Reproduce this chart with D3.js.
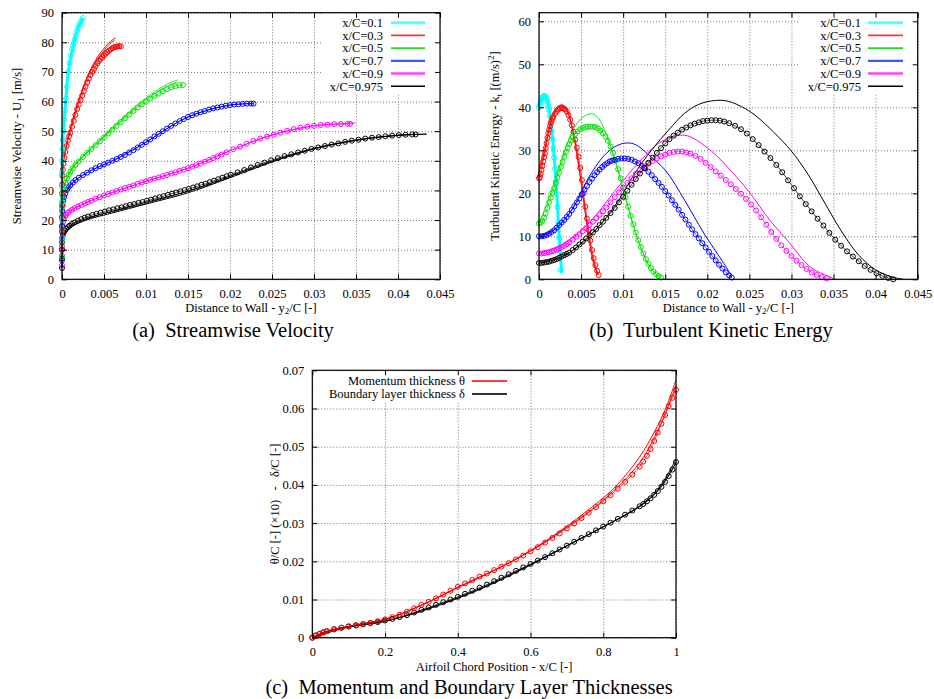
<!DOCTYPE html>
<html><head><meta charset="utf-8">
<script src="https://cdn.jsdelivr.net/npm/d3@7"></script>
<style>body{margin:0;background:#fff} text{font-family:"Liberation Serif","Times New Roman",serif;fill:#000}</style>
</head><body><svg id="chart" width="934" height="699"></svg>
<script>
// ---------------- DATA ----------------
const caseLabels = ["x/C=0.1","x/C=0.3","x/C=0.5","x/C=0.7","x/C=0.9","x/C=0.975"];
const caseColors = ["#00ffff","#ff0000","#00e400","#0000ff","#ff00ff","#000000"];
const legendColors = ["#55ffff","#ff3333","#22dd22","#4455ff","#ff44ff","#000000"];

const xTicksProfile = [0,0.005,0.01,0.015,0.02,0.025,0.03,0.035,0.04,0.045];
const yTicksVel = [0,10,20,30,40,50,60,70,80,90];
const yTicksTke = [0,10,20,30,40,50,60];
const xTicksChord = [0,0.2,0.4,0.6,0.8,1];
const yTicksThick = [0,0.01,0.02,0.03,0.04,0.05,0.06,0.07];

// (a) streamwise velocity: markers [y2/C, U1]
const velMarks01 = [[0,14],[0,20],[0,26],[0,31],[0,36],[0.00003,40],[0.00006,44],[0.0001,47],[0.00016,50],[0.00025,54],[0.00036,57],[0.00048,61],[0.0006,65],[0.00075,70],[0.0009,73],[0.00105,75.5],[0.0012,77.5],[0.00135,79],[0.0015,80.8],[0.00165,82.3],[0.0018,83.8],[0.00194,85],[0.0021,86.1],[0.0023,87.3],[0.0025,88.2]];
const velMarks03 = [[0,10],[0,16],[0,21],[0,25],[0,29],[0.00002,32],[0.00005,35],[0.0001,37],[0.00018,39],[0.00028,41],[0.0004,43],[0.00055,45],[0.0007,46.8],[0.00085,48.3],[0.001,49.5],[0.0012,51.5],[0.0014,53.5],[0.0016,55.5],[0.0018,57.5],[0.002,59],[0.0022,60.5],[0.0024,62],[0.0026,63.5],[0.0028,65],[0.003,66.5],[0.0032,67.8],[0.0034,69],[0.0036,70],[0.0038,71],[0.004,72],[0.0042,72.9],[0.0044,73.7],[0.0046,74.4],[0.0048,75],[0.005,75.6],[0.0052,76.2],[0.0054,76.7],[0.0056,77.2],[0.0058,77.6],[0.006,78],[0.0062,78.3],[0.0064,78.5],[0.0066,78.6],[0.0068,78.7],[0.007,78.6]];
const velMarks05 = [[0,7.5],[0,12],[0,17],[0,21],[0,24],[0.00003,26],[0.00008,28],[0.00015,29.5],[0.00025,31],[0.0004,32.5],[0.0006,34],[0.0008,35.3],[0.001,36.3],[0.0013,37.5],[0.0016,38.6],[0.002,39.8],[0.0025,41.3],[0.003,42.7],[0.0035,44],[0.004,45.3],[0.0045,46.6],[0.005,47.9],[0.0055,49.2],[0.006,50.5],[0.0065,51.8],[0.007,53.1],[0.0075,54.4],[0.008,55.6],[0.0085,56.8],[0.009,58],[0.0095,59],[0.01,60],[0.0105,61],[0.011,61.9],[0.0115,62.7],[0.012,63.5],[0.0125,64.2],[0.013,64.8],[0.0135,65.2],[0.014,65.5],[0.0144,65.6]];
const velMarks07 = [[0,6.4],[0,10],[0,14],[0,18],[0,21],[0.00003,23],[0.00008,25],[0.00015,26.5],[0.00025,27.8],[0.0004,29],[0.0006,30.2],[0.0008,31.1],[0.001,31.8],[0.0013,32.7],[0.0016,33.5],[0.002,34.3],[0.0025,35.2],[0.003,36],[0.0035,36.8],[0.004,37.5],[0.0045,38.2],[0.005,38.8],[0.0055,39.4],[0.006,40],[0.0065,40.6],[0.007,41.3],[0.0075,42],[0.008,42.8],[0.0085,43.6],[0.009,44.5],[0.0095,45.4],[0.01,46.3],[0.0105,47.2],[0.011,48.2],[0.0115,49.1],[0.012,50],[0.0125,50.9],[0.013,51.8],[0.0135,52.6],[0.014,53.4],[0.0145,54.1],[0.015,54.8],[0.0155,55.4],[0.016,55.9],[0.0165,56.4],[0.017,56.8],[0.0175,57.3],[0.018,57.7],[0.0185,58],[0.019,58.3],[0.0195,58.6],[0.02,58.8],[0.0205,59],[0.021,59.1],[0.0215,59.2],[0.022,59.3],[0.0225,59.3],[0.0228,59.3]];
const velMarks09 = [[0,4.7],[0,8],[0,11],[0,14],[0,16.5],[0.00003,18],[0.0001,19.3],[0.0002,20.3],[0.00035,21.2],[0.0005,21.8],[0.0007,22.4],[0.0009,22.9],[0.0012,23.5],[0.0015,24],[0.0019,24.6],[0.0023,25.1],[0.0027,25.6],[0.0031,26.1],[0.0035,26.6],[0.004,27.2],[0.0045,27.7],[0.005,28.3],[0.0055,28.8],[0.006,29.3],[0.0065,29.8],[0.007,30.3],[0.0075,30.8],[0.008,31.2],[0.0085,31.7],[0.009,32.2],[0.0095,32.7],[0.01,33.1],[0.0105,33.6],[0.011,34],[0.0115,34.4],[0.012,34.8],[0.0125,35.2],[0.013,35.7],[0.0135,36.1],[0.014,36.6],[0.0145,37],[0.015,37.5],[0.0155,38],[0.016,38.6],[0.0165,39.1],[0.017,39.7],[0.0175,40.3],[0.018,40.9],[0.0185,41.5],[0.019,42.1],[0.0196,42.9],[0.0204,43.9],[0.0212,44.8],[0.022,45.8],[0.0228,46.7],[0.0236,47.5],[0.0244,48.2],[0.0252,48.8],[0.026,49.5],[0.0268,50.1],[0.0276,50.7],[0.0284,51.2],[0.0292,51.5],[0.03,51.8],[0.0308,52.1],[0.0316,52.2],[0.0324,52.4],[0.0332,52.4],[0.034,52.5],[0.0343,52.5]];
const velMarks0975 = [[0,3.8],[0,7],[0,10],[0,12.5],[0.00003,14],[0.0001,15],[0.0002,15.8],[0.00035,16.5],[0.0005,17],[0.0007,17.6],[0.0009,18.1],[0.0012,18.7],[0.0015,19.2],[0.0019,19.8],[0.0023,20.3],[0.0027,20.8],[0.0031,21.2],[0.0036,21.7],[0.0041,22.1],[0.0046,22.5],[0.0051,22.9],[0.0056,23.3],[0.0061,23.6],[0.0066,24],[0.0071,24.3],[0.0076,24.7],[0.0081,25.1],[0.0086,25.4],[0.0091,25.8],[0.0096,26.1],[0.0101,26.5],[0.0106,26.9],[0.0111,27.3],[0.0116,27.7],[0.0121,28.1],[0.0126,28.5],[0.0131,28.9],[0.0136,29.3],[0.0141,29.7],[0.0146,30.1],[0.0151,30.5],[0.0156,31],[0.0161,31.4],[0.0166,31.9],[0.0171,32.3],[0.0176,32.8],[0.0181,33.3],[0.0186,33.8],[0.0191,34.3],[0.0196,34.8],[0.0201,35.3],[0.0209,36.1],[0.0217,36.9],[0.0225,37.8],[0.0233,38.6],[0.0241,39.4],[0.0249,40.2],[0.0257,40.9],[0.0265,41.6],[0.0273,42.2],[0.0281,42.8],[0.0289,43.4],[0.0297,44],[0.0305,44.5],[0.0313,45],[0.0321,45.5],[0.0329,45.9],[0.0337,46.4],[0.0345,46.8],[0.0353,47.1],[0.0361,47.5],[0.0369,47.8],[0.0377,48],[0.0385,48.3],[0.0393,48.5],[0.0401,48.7],[0.0409,48.8],[0.0417,48.9],[0.0421,48.9]];

const velLine01 = [[0,13],[0.00003,40],[0.0001,47],[0.00036,57],[0.00075,70],[0.00135,79],[0.00194,85],[0.0025,88.2]];
const velLine03a = [[0,10],[0.0001,37],[0.0004,44],[0.001,51],[0.002,60.5],[0.003,68.3],[0.004,74],[0.005,78],[0.0058,80.4],[0.0064,81.5]];
const velLine03b = [[0,10],[0.0001,36.5],[0.0004,43.5],[0.001,50.5],[0.002,60],[0.003,67.8],[0.004,73.4],[0.005,77.3],[0.0058,79.8],[0.0063,80.8]];
const velLine05a = [[0,7.5],[0.0001,28.5],[0.001,36.8],[0.003,43],[0.005,48.4],[0.007,53.9],[0.009,59],[0.011,63.3],[0.012,65],[0.013,66.5],[0.0138,67.3]];
const velLine05b = [[0,7.5],[0.0001,28.3],[0.001,36.5],[0.003,42.7],[0.005,48],[0.007,53.4],[0.009,58.4],[0.011,62.6],[0.012,64.3],[0.013,65.8],[0.0137,66.6]];
const velLine07 = [[0,6.4],[0.0001,25.5],[0.001,31.8],[0.003,36],[0.006,40],[0.01,46.3],[0.015,54.8],[0.02,58.8],[0.0228,59.3]];
const velLine09 = [[0,4.7],[0.0001,19.3],[0.001,23],[0.003,26],[0.006,29.3],[0.01,33.1],[0.015,37.5],[0.02,43.4],[0.025,48.7],[0.03,51.8],[0.0349,52.7]];
const velLine0975a = [[0,3.8],[0.0001,14.5],[0.001,17.9],[0.003,20.6],[0.006,23],[0.01,26],[0.015,29.8],[0.02,34.8],[0.025,39.9],[0.03,44.2],[0.035,47],[0.04,48.6],[0.0434,49]];
const velLine0975b = [[0,3.8],[0.0001,14.2],[0.001,17.5],[0.003,20.1],[0.006,22.4],[0.01,25.4],[0.015,29.2],[0.02,34.3],[0.025,39.6],[0.03,44],[0.035,46.9],[0.04,48.6],[0.0434,49]];

// (b) turbulent kinetic energy: markers [y2/C, k]
const tkeMarks01 = [[0,40],[0.0001,40.5],[0.0002,41.2],[0.0003,41.8],[0.0004,42.2],[0.0005,42.5],[0.0006,42.6],[0.0007,42.6],[0.0008,42.4],[0.0009,42],[0.001,41.3],[0.0011,40.3],[0.0012,39.3],[0.0013,38],[0.0014,36.3],[0.0015,34.5],[0.0016,32.6],[0.0017,30.6],[0.0018,28.3],[0.0019,25.7],[0.002,22.8],[0.0021,20],[0.0022,16.8],[0.0023,13.2],[0.0024,9.6],[0.0025,6],[0.0026,2.2]];
const tkeMarks03 = [[0,23.5],[0.0001,23.8],[0.0002,24.5],[0.0003,25.4],[0.0004,26.4],[0.0005,27.4],[0.0006,28.4],[0.0007,29.3],[0.0008,30.5],[0.0009,31.7],[0.001,32.9],[0.0011,34],[0.0012,34.8],[0.0013,35.6],[0.0014,36.3],[0.0015,36.9],[0.0016,37.4],[0.0017,37.8],[0.0019,38.5],[0.0021,39.1],[0.0023,39.5],[0.0025,39.8],[0.0027,39.9],[0.0029,39.8],[0.0031,39.5],[0.0033,39],[0.0035,38.2],[0.0037,37.1],[0.0039,35.8],[0.0041,34.3],[0.0043,32.5],[0.0045,30.6],[0.0047,28.5],[0.0049,25.9],[0.0051,23.1],[0.0053,20],[0.0055,16.9],[0.0057,14.1],[0.0059,11.5],[0.0061,9],[0.0063,6.8],[0.0065,4.9],[0.0067,3.3],[0.0069,2],[0.0071,1]];
const tkeMarks05 = [[0,13],[0.0002,13.2],[0.0004,13.6],[0.0006,14.3],[0.0008,15.3],[0.001,16.6],[0.0012,17.9],[0.0014,19],[0.0016,20.1],[0.0018,21.2],[0.002,22.4],[0.0022,23.6],[0.0024,24.8],[0.0026,26.1],[0.0028,27.3],[0.003,28.5],[0.0032,29.6],[0.0034,30.6],[0.0036,31.5],[0.0038,32.3],[0.004,33],[0.0043,33.8],[0.0046,34.4],[0.0049,34.9],[0.0052,35.2],[0.0055,35.4],[0.0058,35.5],[0.0061,35.5],[0.0064,35.5],[0.0067,35.4],[0.007,35.1],[0.0073,34.6],[0.0076,34],[0.0079,33.2],[0.0082,32.2],[0.0085,30.9],[0.0088,29.4],[0.0091,27.6],[0.0094,25.6],[0.0097,23.5],[0.01,21.3],[0.0103,19.1],[0.0106,16.9],[0.0109,14.8],[0.0112,12.8],[0.0115,10.9],[0.0118,9.1],[0.0121,7.5],[0.0124,6],[0.0127,4.7],[0.013,3.6],[0.0133,2.6],[0.0136,1.8],[0.0139,1.2],[0.0142,0.7],[0.0145,0.4]];
const tkeMarks07 = [[0,10],[0.0003,10],[0.0006,10.1],[0.0009,10.3],[0.0012,10.6],[0.0015,11],[0.0018,11.4],[0.0021,12],[0.0024,12.6],[0.0027,13.2],[0.003,13.8],[0.0033,14.5],[0.0036,15.2],[0.0039,16.1],[0.0042,17],[0.0045,17.9],[0.0048,18.8],[0.0051,19.8],[0.0054,20.8],[0.0057,21.7],[0.006,22.6],[0.0063,23.4],[0.0066,24.2],[0.0069,24.9],[0.0072,25.5],[0.0075,26.1],[0.0078,26.6],[0.0081,27],[0.0084,27.4],[0.0087,27.6],[0.009,27.8],[0.0094,28],[0.0098,28.1],[0.0102,28.1],[0.0106,28],[0.011,27.8],[0.0114,27.4],[0.0118,27],[0.0122,26.4],[0.0126,25.8],[0.013,25],[0.0134,24.2],[0.0138,23.3],[0.0142,22.4],[0.0146,21.5],[0.015,20.5],[0.0154,19.5],[0.0158,18.4],[0.0162,17.3],[0.0166,16.2],[0.017,15],[0.0174,13.9],[0.0178,12.7],[0.0182,11.6],[0.0186,10.5],[0.019,9.5],[0.0194,8.4],[0.0198,7.4],[0.0202,6.4],[0.0206,5.4],[0.021,4.4],[0.0214,3.4],[0.0218,2.5],[0.0222,1.6],[0.0226,0.9],[0.0229,0.4]];
const tkeMarks09 = [[0,6],[0.0003,6],[0.0006,6.1],[0.0009,6.2],[0.0012,6.3],[0.0015,6.5],[0.0018,6.7],[0.0021,6.9],[0.0024,7.2],[0.0027,7.5],[0.003,7.8],[0.0033,8.2],[0.0036,8.6],[0.004,9.2],[0.0044,9.9],[0.0048,10.5],[0.0052,11.2],[0.0056,11.9],[0.006,12.7],[0.0064,13.4],[0.0068,14.2],[0.0072,15],[0.0076,15.8],[0.008,16.7],[0.0085,17.9],[0.009,19.1],[0.0095,20.2],[0.01,21.3],[0.0105,22.4],[0.011,23.5],[0.0115,24.5],[0.012,25.4],[0.0125,26.2],[0.013,26.9],[0.0135,27.5],[0.014,28.1],[0.0145,28.6],[0.015,29],[0.0155,29.4],[0.016,29.6],[0.0165,29.7],[0.017,29.7],[0.0175,29.5],[0.018,29.2],[0.0186,28.7],[0.0192,28],[0.0198,27.1],[0.0204,26.1],[0.021,25.1],[0.0216,24.1],[0.0222,23.1],[0.0228,22.1],[0.0234,21],[0.024,19.9],[0.0246,18.7],[0.0252,17.4],[0.0258,16],[0.0264,14.4],[0.027,12.7],[0.0276,11],[0.0282,9.4],[0.0288,7.9],[0.0294,6.6],[0.03,5.4],[0.0306,4.3],[0.0312,3.3],[0.0318,2.4],[0.0324,1.6],[0.033,1],[0.0336,0.5],[0.0342,0.2]];
const tkeMarks0975 = [[0,3.8],[0.0003,3.8],[0.0006,3.9],[0.0009,4],[0.0012,4.1],[0.0015,4.3],[0.0018,4.5],[0.0021,4.7],[0.0024,5],[0.0027,5.3],[0.003,5.6],[0.0033,5.9],[0.0036,6.2],[0.004,6.8],[0.0044,7.4],[0.0048,8.1],[0.0052,8.8],[0.0056,9.5],[0.006,10.2],[0.0064,10.9],[0.0068,11.7],[0.0072,12.6],[0.0076,13.4],[0.008,14.3],[0.0085,15.4],[0.009,16.6],[0.0095,17.9],[0.01,19.2],[0.0105,20.6],[0.011,22],[0.0115,23.3],[0.012,24.6],[0.0125,25.9],[0.013,27.1],[0.0135,28.3],[0.014,29.4],[0.0145,30.5],[0.015,31.6],[0.0155,32.6],[0.016,33.4],[0.0165,34.1],[0.017,34.8],[0.0175,35.3],[0.018,35.8],[0.0185,36.2],[0.019,36.5],[0.0195,36.8],[0.02,36.9],[0.0205,37],[0.021,37],[0.0215,36.9],[0.022,36.7],[0.0226,36.3],[0.0233,35.7],[0.024,34.9],[0.0247,33.9],[0.0254,32.6],[0.0261,31.2],[0.0268,29.7],[0.0275,28.2],[0.0282,26.6],[0.0289,24.9],[0.0296,23],[0.0303,21.2],[0.031,19.3],[0.0317,17.5],[0.0324,15.8],[0.0331,14.1],[0.0338,12.5],[0.0345,10.8],[0.0352,9.2],[0.0359,7.8],[0.0366,6.5],[0.0373,5.3],[0.038,4.2],[0.0387,3.1],[0.0394,2.2],[0.0401,1.4],[0.0408,0.8],[0.0415,0.3],[0.0421,0]];

const tkeLine01 = [[0,40],[0.0004,42.3],[0.0007,42.7],[0.001,41.5],[0.0014,36.5],[0.0018,28.5],[0.0022,17],[0.0025,6.5],[0.0027,1.5]];
const tkeLine03a = [[0,26],[0.0005,28.8],[0.001,33.6],[0.0015,37.4],[0.002,39.7],[0.0027,40.6],[0.0033,39.6],[0.004,34.8],[0.0045,29.5],[0.005,23],[0.0055,15.8],[0.006,9],[0.0065,4],[0.0069,1.3]];
const tkeLine03b = [[0,24.8],[0.0005,28],[0.001,33],[0.0015,37],[0.002,39.3],[0.0027,40.2],[0.0033,39.3],[0.004,34.5],[0.0045,29],[0.005,22.5],[0.0055,15.3],[0.006,8.6],[0.0065,3.6],[0.007,1]];
const tkeLine05 = [[0,13],[0.001,17.8],[0.002,23.5],[0.003,29.5],[0.004,34.5],[0.005,37.4],[0.0063,38.5],[0.007,37.6],[0.008,33.8],[0.009,27.8],[0.01,20.8],[0.011,13.8],[0.012,7.8],[0.013,3.4],[0.0142,0.5]];
const tkeLine07 = [[0,10],[0.002,11.8],[0.004,16.5],[0.006,24],[0.008,29.3],[0.0095,31.3],[0.0105,31.7],[0.0115,31.3],[0.013,29],[0.015,25.4],[0.0173,18.4],[0.0195,11],[0.0209,6.8],[0.022,3.6],[0.0228,1]];
const tkeLine09 = [[0,6],[0.003,8.3],[0.006,13.2],[0.009,20.5],[0.012,27.5],[0.0145,32],[0.0167,33.5],[0.0179,33.2],[0.0205,29.8],[0.023,24.8],[0.0251,20],[0.0274,13.8],[0.0298,8.4],[0.0322,2.9],[0.035,0.2]];
const tkeLine0975 = [[0,3.8],[0.003,5.5],[0.006,10],[0.009,17],[0.0114,24.7],[0.0134,30.1],[0.0154,34.7],[0.0173,38.6],[0.019,40.7],[0.021,41.6],[0.0225,41.4],[0.0245,39.7],[0.0259,37.8],[0.028,34],[0.03,29.8],[0.032,24.3],[0.034,17.6],[0.036,11],[0.038,5.6],[0.04,2.2],[0.042,0.5],[0.0433,0]];

// (c) thicknesses: [x/C, value]
const thickLabels = ["Momentum thickness \u03b8","Boundary layer thickness \u03b4"];
const thickColors = ["#ff0000","#000000"];
const thetaMarks = [[0,0],[0.01,0.0006],[0.02,0.001],[0.03,0.0014],[0.04,0.0017],[0.06,0.0022],[0.08,0.0026],[0.1,0.003],[0.12,0.0033],[0.14,0.0036],[0.16,0.0039],[0.18,0.0043],[0.2,0.0048],[0.22,0.0054],[0.24,0.006],[0.26,0.0068],[0.28,0.0077],[0.3,0.0086],[0.32,0.0094],[0.34,0.0103],[0.36,0.0113],[0.38,0.0123],[0.4,0.0133],[0.42,0.0142],[0.44,0.0151],[0.46,0.016],[0.48,0.0168],[0.5,0.0177],[0.52,0.0186],[0.54,0.0195],[0.56,0.0205],[0.58,0.0215],[0.6,0.0226],[0.62,0.0237],[0.64,0.0249],[0.66,0.0261],[0.68,0.0273],[0.7,0.0286],[0.72,0.0299],[0.74,0.0313],[0.76,0.0327],[0.78,0.0342],[0.8,0.0357],[0.82,0.0373],[0.84,0.039],[0.86,0.0408],[0.88,0.0427],[0.9,0.0448],[0.91,0.0461],[0.92,0.0476],[0.93,0.0494],[0.94,0.0515],[0.95,0.0537],[0.96,0.056],[0.97,0.0583],[0.98,0.0606],[0.99,0.0628],[1,0.0649]];
const deltaMarks = [[0,0],[0.01,0.0006],[0.02,0.001],[0.03,0.0014],[0.04,0.0017],[0.06,0.0022],[0.08,0.0026],[0.1,0.0029],[0.12,0.0032],[0.14,0.0035],[0.16,0.0038],[0.18,0.0041],[0.2,0.0045],[0.22,0.0049],[0.24,0.0054],[0.26,0.0059],[0.28,0.0066],[0.3,0.0073],[0.32,0.0079],[0.34,0.0086],[0.36,0.0093],[0.38,0.01],[0.4,0.0107],[0.42,0.0115],[0.44,0.0123],[0.46,0.0131],[0.48,0.0139],[0.5,0.0148],[0.52,0.0157],[0.54,0.0166],[0.56,0.0175],[0.58,0.0184],[0.6,0.0193],[0.62,0.0202],[0.64,0.0211],[0.66,0.0221],[0.68,0.0231],[0.7,0.0241],[0.72,0.0251],[0.74,0.0261],[0.76,0.0271],[0.78,0.0281],[0.8,0.0291],[0.82,0.0301],[0.84,0.0311],[0.86,0.0322],[0.88,0.0333],[0.9,0.0344],[0.91,0.035],[0.92,0.0357],[0.93,0.0365],[0.94,0.0374],[0.95,0.0384],[0.96,0.0395],[0.97,0.0408],[0.98,0.0423],[0.99,0.044],[1,0.046]];
const thetaLineA = [[0,0],[0.05,0.0019],[0.1,0.003],[0.2,0.0048],[0.3,0.0085],[0.4,0.0131],[0.5,0.0176],[0.6,0.0228],[0.7,0.0292],[0.8,0.0366],[0.838,0.04],[0.9,0.0473],[0.95,0.0556],[0.975,0.0608],[1,0.0675]];
const thetaLineB = [[0,0],[0.1,0.003],[0.2,0.0048],[0.3,0.0085],[0.4,0.0131],[0.5,0.0176],[0.6,0.0227],[0.7,0.0289],[0.8,0.036],[0.9,0.0458],[0.95,0.0543],[1,0.066]];
const deltaLineA = [[0,0],[0.05,0.0019],[0.1,0.0028],[0.2,0.0043],[0.3,0.0069],[0.4,0.0103],[0.5,0.0143],[0.6,0.019],[0.7,0.024],[0.8,0.029],[0.9,0.0345],[0.95,0.0388],[1,0.0467]];
const deltaLineB = [[0,0],[0.1,0.0028],[0.2,0.0043],[0.3,0.0071],[0.4,0.0105],[0.5,0.0145],[0.6,0.0192],[0.7,0.0241],[0.8,0.029],[0.9,0.0343],[0.95,0.0385],[1,0.0458]];

// ---------------- DRAWING ----------------
const svg = d3.select("#chart");
svg.append("rect").attr("width",934).attr("height",699).attr("fill","#fff");
const FS = 12.5;

function richText(sel, parts, size){
  let shift = 0;
  parts.forEach(p => {
    const target = p.sub ? size*0.22 : p.sup ? -size*0.4 : 0;
    const t = sel.append("tspan").text(p.t);
    if (target !== shift) t.attr("dy", target - shift);
    if (p.sub || p.sup) t.attr("font-size", size*0.72);
    shift = target;
  });
}

function panel(cfg){
  const x = d3.scaleLinear().domain(cfg.xDomain).range([cfg.left, cfg.right]);
  const y = d3.scaleLinear().domain(cfg.yDomain).range([cfg.bottom, cfg.top]);
  const g = svg.append("g");
  const W = cfg.right - cfg.left, H = cfg.bottom - cfg.top;

  // grid
  const gx = g.append("g").attr("transform",`translate(0,${cfg.bottom})`)
    .call(d3.axisBottom(x).tickValues(cfg.xTicks).tickSize(-H).tickFormat(""));
  const gy = g.append("g").attr("transform",`translate(${cfg.left},0)`)
    .call(d3.axisLeft(y).tickValues(cfg.yTicks).tickSize(-W).tickFormat(""));
  [gx,gy].forEach(a => { a.select(".domain").remove();
    a.selectAll("line").attr("stroke","#666").attr("stroke-width",0.9).attr("stroke-dasharray","1,2"); });

  // legend background
  g.append("rect").attr("x",cfg.legBox[0]).attr("y",cfg.legBox[1])
    .attr("width",cfg.legBox[2]).attr("height",cfg.legBox[3]).attr("fill","#fff");

  const lineGen = d3.line().x(d=>x(d[0])).y(d=>y(d[1])).curve(d3.curveCatmullRom.alpha(0.5));
  const markLine = d3.line().x(d=>x(d[0])).y(d=>y(d[1]));
  cfg.series.forEach(s => {
    s.lines.forEach(L => g.append("path").attr("d", lineGen(L)).attr("fill","none")
      .attr("stroke", s.color).attr("stroke-width", s.lw));
  });
  cfg.series.forEach(s => {
    g.append("path").attr("d", markLine(s.marks)).attr("fill","none")
      .attr("stroke", s.color).attr("stroke-width", 0.7);
    g.append("g").selectAll("circle").data(s.marks).join("circle")
      .attr("cx", d=>x(d[0])).attr("cy", d=>y(d[1])).attr("r", 2.5)
      .attr("fill","none").attr("stroke", s.color).attr("stroke-width", 1);
  });

  // border
  g.append("rect").attr("x",cfg.left).attr("y",cfg.top).attr("width",W).attr("height",H)
    .attr("fill","none").attr("stroke","#000").attr("stroke-width",1.2);

  // axes with inward ticks
  const fmt = d => String(d);
  const ab = g.append("g").attr("transform",`translate(0,${cfg.bottom})`)
    .call(d3.axisBottom(x).tickValues(cfg.xTicks).tickSize(-5).tickPadding(9.5).tickFormat(fmt));
  const al = g.append("g").attr("transform",`translate(${cfg.left},0)`)
    .call(d3.axisLeft(y).tickValues(cfg.yTicks).tickSize(-5).tickPadding(8).tickFormat(fmt));
  const at = g.append("g").attr("transform",`translate(0,${cfg.top})`)
    .call(d3.axisTop(x).tickValues(cfg.xTicks).tickSize(-5).tickFormat(""));
  const ar = g.append("g").attr("transform",`translate(${cfg.right},0)`)
    .call(d3.axisRight(y).tickValues(cfg.yTicks).tickSize(-5).tickFormat(""));
  [ab,al,at,ar].forEach(a => { a.select(".domain").remove();
    a.selectAll("line").attr("stroke","#000").attr("stroke-width",1);
    a.selectAll("text").attr("font-size",FS).attr("font-family","'Liberation Serif',serif").attr("fill","#000"); });

  // legend
  cfg.legend.forEach((it,i) => {
    const yy = cfg.legY + i*cfg.legStep;
    g.append("text").attr("x",cfg.legTextX).attr("y",yy).attr("dy","0.35em")
      .attr("text-anchor","end").attr("font-size",FS).text(it.label);
    g.append("line").attr("x1",cfg.legLine[0]).attr("x2",cfg.legLine[1]).attr("y1",yy).attr("y2",yy)
      .attr("stroke",it.color).attr("stroke-width",it.lw);
  });

  // titles
  const xt = g.append("text").attr("x",(cfg.left+cfg.right)/2).attr("y",cfg.xTitleY)
    .attr("text-anchor","middle").attr("font-size",FS);
  richText(xt, cfg.xTitle, FS);
  const yt = g.append("text").attr("transform",`translate(${cfg.yTitleX},${(cfg.top+cfg.bottom)/2}) rotate(-90)`)
    .attr("text-anchor","middle").attr("dy","0.35em").attr("font-size",FS).attr("xml:space","preserve");
  richText(yt, cfg.yTitle, FS);
  g.append("text").attr("x",cfg.capX).attr("y",cfg.capY).attr("text-anchor","middle")
    .attr("font-size",20.5).attr("xml:space","preserve").text(cfg.caption);
}

const legLW = [3,1.6,1.6,2.2,2.6,1.4];
const lineLW = [3,0.9,0.9,1,1,1];

const distTitle = [{t:"Distance to Wall - y"},{t:"2",sub:true},{t:"/C [-]"}];

panel({
  left:62, right:440, top:12.7, bottom:279.3,
  xDomain:[0,0.045], yDomain:[0,90], xTicks:xTicksProfile, yTicks:yTicksVel,
  legBox:[322,13.5,117,80], legY:22.7, legStep:12.7, legTextX:383, legLine:[391,425],
  legend: caseLabels.map((l,i)=>({label:l,color:legendColors[i],lw:legLW[i]})),
  series:[
    {color:caseColors[5],lw:lineLW[5],lines:[velLine0975a,velLine0975b],marks:velMarks0975},
    {color:caseColors[4],lw:lineLW[4],lines:[velLine09],marks:velMarks09},
    {color:caseColors[3],lw:lineLW[3],lines:[velLine07],marks:velMarks07},
    {color:caseColors[2],lw:lineLW[2],lines:[velLine05a,velLine05b],marks:velMarks05},
    {color:caseColors[1],lw:lineLW[1],lines:[velLine03a,velLine03b],marks:velMarks03},
    {color:caseColors[0],lw:lineLW[0],lines:[velLine01],marks:velMarks01}
  ],
  xTitle:distTitle, xTitleY:311.5,
  yTitle:[{t:"Streamwise Velocity - U"},{t:"1",sub:true},{t:" [m/s]"}], yTitleX:17,
  caption:"(a)  Streamwise Velocity", capX:233, capY:336.5
});

panel({
  left:539, right:917.7, top:12.7, bottom:279.3,
  xDomain:[0,0.045], yDomain:[0,62], xTicks:xTicksProfile, yTicks:yTicksTke,
  legBox:[800,13.5,117,80], legY:22.7, legStep:12.7, legTextX:861, legLine:[868,903],
  legend: caseLabels.map((l,i)=>({label:l,color:legendColors[i],lw:legLW[i]})),
  series:[
    {color:caseColors[0],lw:lineLW[0],lines:[tkeLine01],marks:tkeMarks01},
    {color:caseColors[1],lw:lineLW[1],lines:[tkeLine03a,tkeLine03b],marks:tkeMarks03},
    {color:caseColors[2],lw:lineLW[2],lines:[tkeLine05],marks:tkeMarks05},
    {color:caseColors[3],lw:lineLW[3],lines:[tkeLine07],marks:tkeMarks07},
    {color:caseColors[4],lw:lineLW[4],lines:[tkeLine09],marks:tkeMarks09},
    {color:caseColors[5],lw:lineLW[5],lines:[tkeLine0975],marks:tkeMarks0975}
  ],
  xTitle:distTitle, xTitleY:311.5,
  yTitle:[{t:"Turbulent Kinetic Energy - k"},{t:"t",sub:true},{t:" [(m/s)"},{t:"2",sup:true},{t:"]"}], yTitleX:495,
  caption:"(b)  Turbulent Kinetic Energy", capX:711, capY:336.5
});

panel({
  left:312.3, right:676, top:370.3, bottom:637.7,
  xDomain:[0,1], yDomain:[0,0.07], xTicks:xTicksChord, yTicks:yTicksThick,
  legBox:[318,371.5,196,30], legY:381, legStep:13, legTextX:465, legLine:[472,507],
  legend:[{label:thickLabels[0],color:thickColors[0],lw:1.3},{label:thickLabels[1],color:"#333",lw:2.2}],
  series:[
    {color:thickColors[1],lw:1,lines:[deltaLineA,deltaLineB],marks:deltaMarks},
    {color:thickColors[0],lw:1,lines:[thetaLineA,thetaLineB],marks:thetaMarks}
  ],
  xTitle:[{t:"Airfoil Chord Position - x/C [-]"}], xTitleY:670.5,
  yTitle:[{t:"\u03b8/C [-] (\u00d710)   -   \u03b4/C [-]"}], yTitleX:275,
  caption:"(c)  Momentum and Boundary Layer Thicknesses", capX:469, capY:694
});
</script></body></html>
